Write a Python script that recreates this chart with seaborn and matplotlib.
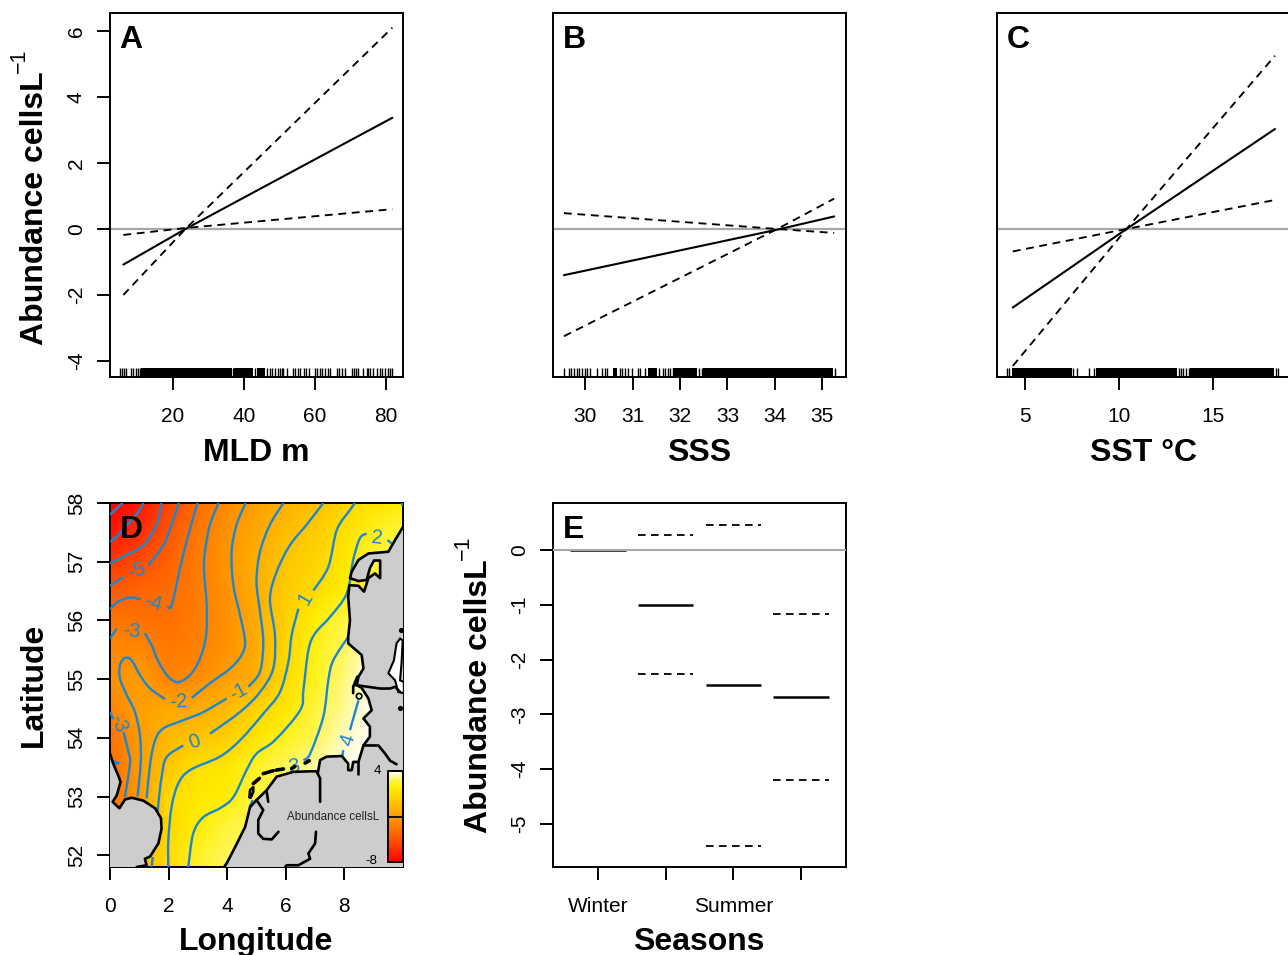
import numpy as np
import matplotlib
matplotlib.use("Agg")
import matplotlib.pyplot as plt
from matplotlib.colors import LinearSegmentedColormap
from matplotlib.path import Path
from matplotlib.patches import PathPatch
import seaborn as sns

W, H = 1288, 955

# ---------- panels A-C: partial effects ----------
mld_x = [6.0, 23.5, 81.8]
mld_fit = [-1.08, 0.0, 3.37]
mld_up = [-2.0, 0.0, 6.1]
mld_lo = [-0.18, 0.03, 0.6]

sss_x = [29.55, 34.05, 35.25]
sss_fit = [-1.4, -0.02, 0.38]
sss_up = [-3.25, 0.0, 0.92]
sss_lo = [0.48, 0.0, -0.12]

sst_x = [4.35, 10.4, 18.3]
sst_fit = [-2.38, 0.0, 3.03]
sst_up = [-4.15, 0.0, 5.25]
sst_lo = [-0.68, 0.0, 0.88]

rug_mld = [5.1, 5.5, 6.2, 6.8, 8.2, 8.8, 9.6, 10.2, 10.6, 37, 43.2, 46.4, 47.3, 47.8, 48.7, 49.7, 50.2,
           50.7, 51.1, 52.2, 53.9, 54.4, 55.3, 55.8, 56.9, 57.5, 58.4, 60, 60.6, 61.4, 61.9, 62.8, 63.8,
           64.2, 66.1, 66.9, 67.6, 68.5, 70.3, 70.9, 71.6, 72.2, 73.6, 74.6, 75, 75.6, 76.4, 77.4, 78.3,
           79, 79.8, 80.5, 81.2, 81.6]
rug_mld_dense = [(11, 36.5), (37.3, 42.6), (43.6, 45.9)]
rug_sss = [29.55, 29.66, 29.71, 29.77, 29.83, 29.87, 29.94, 30.0, 30.03, 30.10, 30.24, 30.36, 30.42, 30.46,
           30.73, 30.78, 30.84, 30.91, 30.99, 31.12, 31.15, 31.27, 31.56, 31.63, 31.68, 31.74, 31.79,
           31.85, 32.40, 32.46, 35.26]
rug_sss_dense = [(30.59, 30.68), (31.32, 31.51), (31.86, 32.35), (32.49, 35.22)]
rug_sst = [4.06, 4.16, 7.58, 7.76, 8.38, 8.68, 13.19, 13.31, 13.42, 13.54, 13.72, 18.35, 18.47]
rug_sst_dense = [(4.29, 7.49), (8.79, 13.1), (13.77, 18.26)]

# ---------- panel E: seasons ----------
season_labels = ["Winter", "", "Summer", ""]
season_pos = [1, 2, 3, 4]
season_fit = [0.0, -1.0, -2.47, -2.69]
season_up = [0.27, 0.45, -1.16]
season_lo = [-2.27, -5.4, -4.2]
season_ci_pos = [2, 3, 4]

# ---------- panel D: spatial surface ----------
grid_lon = [0, 1, 2, 3, 4, 5, 6, 7, 8, 9, 10]
grid_lat = [58, 57.5, 57, 56.5, 56, 55.5, 55, 54.5, 54, 53.5, 53, 52.5, 52, 51.8]
grid_val = [
    [-8.5, -7.2, -5.6, -4.0, -2.7, -1.7, -0.9, -0.2, 0.7, 1.4, 2.0],
    [-7.2, -6.4, -5.0, -3.5, -2.3, -1.3, -0.4, 0.4, 1.3, 2.2, 2.8],
    [-6.0, -5.3, -4.4, -3.3, -2.2, -1.0, 0.1, 0.7, 1.6, 2.6, 3.0],
    [-4.8, -4.3, -4.0, -3.3, -2.3, -1.1, 0.3, 1.05, 1.9, 2.5, 3.0],
    [-3.6, -3.7, -3.9, -3.2, -2.4, -1.2, 0.6, 2.0, 2.7, 3.5, 3.5],
    [-2.8, -2.75, -3.4, -3.05, -2.3, -1.2, 0.85, 2.2, 3.0, 3.8, 3.8],
    [-2.4, -1.8, -3.02, -2.6, -1.7, -1.0, 1.1, 2.3, 3.2, 4.2, 4.0],
    [-3.0, -1.7, -1.3, -1.2, -0.5, 0.7, 1.6, 2.6, 3.3, 4.3, 4.0],
    [-3.8, -2.0, -0.5, 0.0, 0.6, 1.5, 2.3, 2.9, 3.6, 4.3, 4.0],
    [-4.0, -1.95, 0.15, 1.3, 1.6, 2.4, 3.0, 3.4, 3.9, 4.0, 4.0],
    [-4.0, -2.0, 1.0, 1.7, 1.9, 2.7, 3.0, 3.0, 3.0, 3.0, 3.0],
    [-2.5, -1.5, 0.9, 1.9, 2.6, 3.0, 3.0, 3.0, 3.0, 3.0, 3.0],
    [-2.5, -0.6, 1.0, 2.4, 3.0, 3.0, 3.0, 3.0, 3.0, 3.0, 3.0],
    [-2.5, -0.6, 1.0, 2.4, 3.0, 3.0, 3.0, 3.0, 3.0, 3.0, 3.0],
]
legend_levels = [-8, -5, -2, 0, 2, 3, 4]
heat_colors = ["#ff0000", "#ff5500", "#ff9a00", "#ffc400", "#fff000", "#fff65a", "#ffffff"]
legend_low, legend_high = -8, 4
legend_mid = -2

iso_m8 = [[(0, 57.8), (0.43, 58)]]
iso_m7 = [[(1.14, 58), (0.97, 57.85), (0.63, 57.65), (0.23, 57.43), (0, 57.34)]]
iso_m6 = [[(1.76, 58), (1.59, 57.63), (1.14, 57.28), (0.46, 57.09), (0, 56.97)]]
iso_m5 = [[(2.35, 58), (2.10, 57.63), (1.82, 57.28), (1.31, 56.94)], [(0.46, 56.74), (0, 56.59)]]
iso_m4 = [[(2.99, 58), (2.67, 57.45), (2.39, 56.89), (2.22, 56.49), (2.08, 56.23), (1.93, 56.23)],
          [(1.05, 56.36), (0.68, 56.39), (0.28, 56.32), (0, 56.19)],
          [(0, 53.62), (0.28, 53.57), (0, 53.56)]]
iso_m3 = [[(3.70, 58), (3.41, 57.63), (3.24, 57.17), (3.21, 56.83), (3.30, 56.26), (3.28, 55.75), (3.07, 55.35),
           (2.73, 55.07), (2.33, 54.95), (1.99, 55.04), (1.65, 55.30), (1.42, 55.58), (1.19, 55.78)],
          [(0.23, 55.86), (0, 55.69)],
          [(0, 54.44), (0.11, 54.32)],
          [(0.46, 54.10), (0.63, 53.76), (0.68, 53.56), (0.51, 52.99)]]
iso_m2 = [[(4.63, 58), (4.32, 57.63), (4.15, 57.17), (4.21, 56.60), (4.44, 56.09), (4.61, 55.64), (4.49, 55.41),
           (4.10, 55.18), (3.41, 54.93), (2.79, 54.68)],
          [(1.88, 54.66), (1.37, 54.84), (1.02, 55.07), (0.74, 55.32), (0.51, 55.36), (0.34, 55.24), (0.34, 55.01),
           (0.57, 54.73), (0.85, 54.44), (1.02, 54.05), (1.05, 53.59), (0.94, 53.0)]]
iso_m1 = [[(5.92, 58), (5.46, 57.63), (5.12, 57.17), (5.0, 56.66), (5.12, 56.15), (5.23, 55.64), (5.12, 55.13),
           (4.72, 54.87)],
          [(3.98, 54.67), (3.19, 54.44), (2.50, 54.30), (1.82, 54.16), (1.54, 53.96), (1.37, 53.56), (1.25, 52.97)]]
iso_0 = [[(7.28, 58), (6.71, 57.63), (6.14, 57.28), (5.69, 56.83), (5.46, 56.37), (5.63, 55.75), (5.57, 55.18),
          (5.12, 54.78), (4.44, 54.44), (3.41, 54.07)],
         [(2.50, 53.87), (1.93, 53.67), (1.76, 53.33), (1.65, 52.88), (1.62, 52.65)],
         [(1.46, 51.97), (1.42, 51.8)]]
iso_1 = [[(8.36, 58), (8.19, 57.88), (7.74, 57.54), (7.45, 56.91), (6.94, 56.51)],
         [(6.43, 56.2), (6.20, 55.75), (6.09, 55.30), (5.80, 54.78), (5.23, 54.41), (4.44, 53.96), (3.75, 53.68),
          (2.73, 53.45), (2.33, 53.22), (2.10, 52.82), (1.99, 52.25), (1.99, 51.79)]]
iso_2 = [[(9.47, 57.37), (9.61, 57.31)],
         [(8.76, 57.48), (8.53, 57.40), (8.30, 57.03), (8.08, 56.46), (7.51, 56.06), (7.0, 55.78), (6.77, 55.49),
          (6.60, 54.81), (6.49, 54.47), (5.63, 53.96), (5.0, 53.73), (4.66, 53.45), (4.21, 52.99), (3.75, 52.80),
          (3.19, 52.65), (2.84, 52.37), (2.67, 51.79)],
         [(9.95, 58), (10, 57.94)]]
iso_3 = [[(8.13, 55.72), (7.62, 55.32), (7.45, 54.98), (7.28, 54.36), (6.83, 53.73), (6.60, 53.62)],
         [(3.89, 51.80), (4.04, 51.91)],
         [(4.76, 52.82), (4.87, 52.94)]]
iso_4 = [[(8.48, 54.64), (8.19, 54.13)], [(7.96, 53.79), (7.93, 53.69)]]
iso_lines = [iso_m8, iso_m7, iso_m6, iso_m5, iso_m4, iso_m3, iso_m2, iso_m1, iso_0, iso_1, iso_2, iso_3, iso_4]

iso_label_text = ["-5", "-4", "-3", "-3", "-2", "-1", "0", "1", "2", "3", "4"]
iso_label_lon = [0.91, 1.48, 0.74, 0.28, 2.33, 4.38, 2.90, 6.66, 9.10, 6.26, 8.13]
iso_label_lat = [56.84, 56.29, 55.81, 54.24, 54.61, 54.78, 53.93, 56.37, 57.40, 53.51, 53.96]
iso_label_rot = [18, -15, -5, -70, 4, 28, 20, 60, -5, 10, 72]

coast_main = [(10.01, 57.60), (9.73, 57.37), (9.50, 57.17), (8.82, 57.14), (8.48, 57.03), (8.25, 56.83), (8.19, 56.72),
              (8.48, 56.67), (8.76, 56.69), (8.87, 56.89), (9.01, 57.02), (9.22, 57.02), (9.22, 56.72), (9.04, 56.80),
              (8.82, 56.72), (8.67, 56.49), (8.48, 56.59), (8.17, 56.60), (8.13, 56.40), (8.19, 56.00), (8.13, 55.72),
              (8.13, 55.61), (8.59, 55.41), (8.65, 55.18), (8.48, 55.04), (8.42, 54.90), (8.59, 54.85), (8.82, 54.67),
              (8.93, 54.47), (8.65, 54.33), (8.87, 54.19), (8.87, 54.02), (8.65, 53.87), (8.48, 53.59), (8.30, 53.59),
              (8.25, 53.45), (8.13, 53.45), (8.13, 53.56), (7.91, 53.69), (7.39, 53.68), (7.17, 53.62), (7.09, 53.39),
              (7.05, 53.43), (6.83, 53.43), (6.26, 53.42), (5.69, 53.34), (5.35, 53.11), (5.0, 52.94), (4.78, 52.82),
              (4.61, 52.48), (4.27, 52.14), (3.98, 51.86), (3.89, 51.79)]
land_corners = [(10.05, 51.79), (10.05, 57.60)]
coast_britain = [(0, 53.73), (0.11, 53.56), (0.28, 53.36), (0.36, 53.25), (0.23, 53.02), (0.09, 52.91), (0.32, 52.80),
                 (0.51, 52.95), (0.74, 52.98), (1.14, 52.93), (1.54, 52.80), (1.74, 52.63), (1.76, 52.45), (1.65, 52.2),
                 (1.37, 51.98), (1.19, 51.94), (1.25, 51.83), (0.91, 51.8)]
britain_corner = [(0, 51.79)]
coast_inner = [
    [(8.44, 55.04), (8.30, 54.87), (8.30, 54.76)],
    [(8.36, 54.90), (9.22, 54.84), (9.56, 54.84), (9.73, 54.87), (9.90, 54.78)],
    [(8.48, 53.59), (8.48, 53.39)],
    [(7.09, 53.39), (7.17, 53.31), (7.17, 52.91)],
    [(5.35, 53.08), (5.40, 52.91)],
    [(5.0, 52.94), (5.23, 52.77), (5.06, 52.60), (5.06, 52.37), (5.23, 52.28), (5.52, 52.27), (5.75, 52.40)],
    [(7.03, 52.40), (7.0, 52.20), (6.77, 52.03), (6.83, 51.94), (6.43, 51.83), (6.03, 51.83), (5.97, 51.79)],
    [(8.65, 53.87), (9.16, 53.87), (9.39, 53.73), (9.56, 53.61), (9.78, 53.55)],
    [(4.76, 52.99), (4.78, 53.11), (4.89, 53.16), (4.89, 53.08), (4.80, 52.98), (4.76, 52.99)],
]
frisian_islands = [[(4.89, 53.22), (5.10, 53.31)], [(5.23, 53.39), (5.57, 53.44)], [(5.67, 53.45), (5.92, 53.47)],
                   [(6.20, 53.48), (6.31, 53.51)], [(6.66, 53.57), (6.80, 53.61)]]
baltic = [(9.90, 55.69), (9.78, 55.61), (9.69, 55.32), (9.50, 55.10), (9.73, 54.98), (9.84, 54.78), (10.03, 54.76),
          (10.03, 54.95), (9.90, 54.98), (9.95, 55.27), (9.99, 55.66)]
small_isle_lon = [9.90, 9.92]
small_isle_lat = [54.5, 55.84]
ring_isle_lon = [8.50]
ring_isle_lat = [54.71]
legend_lon = [9.49, 10.0]
legend_lat = [51.88, 53.43]


sns.set_theme(style="ticks")
plt.rcParams.update({
    "font.family": ["Liberation Sans", "DejaVu Sans"],
    "axes.unicode_minus": False,
    "axes.linewidth": 1.4,
    "xtick.major.width": 1.4,
    "ytick.major.width": 1.4,
    "xtick.major.size": 9.5,
    "ytick.major.size": 9.5,
    "xtick.major.pad": 12,
    "ytick.major.pad": 8,
    "axes.edgecolor": "black",
    "xtick.color": "black",
    "ytick.color": "black",
    "text.color": "black",
})

fig = plt.figure(figsize=(W / 100, H / 100), dpi=100)
TICK_FS, LAB_FS = 15, 23
GREY = "#a8a8a8"
BLUE = "#1b86d2"


def axes_px(l, t, r, b):
    return fig.add_axes([l / W, 1 - b / H, (r - l) / W, (b - t) / H])


def style(ax, letter, xticks, xlabels=None, yticks=None):
    ax.set_xticks(xticks)
    ax.set_xticklabels(xlabels if xlabels is not None else [str(v) for v in xticks], fontsize=TICK_FS)
    if yticks is None:
        ax.set_yticks([])
    else:
        ax.set_yticks(yticks)
        ax.set_yticklabels([str(v) for v in yticks], fontsize=TICK_FS, rotation=90, va="center")
    ax.set_xlabel("")
    ax.set_ylabel("")
    ax.text(0.033, 0.925, letter, transform=ax.transAxes, fontsize=LAB_FS, fontweight="bold",
            ha="left", va="center", color="black", zorder=20)


def effect_panel(ax, x, fit, up, lo, rug, dense, xlim, ylim):
    ax.axhline(0, color=GREY, lw=1.6, zorder=1)
    sns.lineplot(x=x, y=fit, ax=ax, color="black", lw=1.5, estimator=None, sort=False, zorder=3)
    for band in (up, lo):
        sns.lineplot(x=x, y=band, ax=ax, color="black", lw=1.35, estimator=None, sort=False, zorder=3)
        ax.lines[-1].set_linestyle((0, (4.2, 3.0)))
    sns.rugplot(x=rug, ax=ax, height=0.0255, color="black", lw=0.95, expand_margins=False)
    for a, b in dense:
        ax.axvspan(a, b, ymin=0, ymax=0.0255, color="black", lw=0)
    ax.set_xlim(*xlim)
    ax.set_ylim(*ylim)


ylim_effect = (-4.485, 6.545)

axA = axes_px(110, 13, 403, 377)
effect_panel(axA, mld_x, mld_fit, mld_up, mld_lo, rug_mld, rug_mld_dense, (2.25, 84.8), ylim_effect)
style(axA, "A", [20, 40, 60, 80], yticks=[-4, -2, 0, 2, 4, 6])

axB = axes_px(553, 13, 846, 377)
effect_panel(axB, sss_x, sss_fit, sss_up, sss_lo, rug_sss, rug_sss_dense, (29.32, 35.5), ylim_effect)
style(axB, "B", [30, 31, 32, 33, 34, 35])

axC = axes_px(997, 13, 1290, 377)
effect_panel(axC, sst_x, sst_fit, sst_up, sst_lo, rug_sst, rug_sst_dense, (3.51, 19.1), ylim_effect)
style(axC, "C", [5, 10, 15])

# ---------- panel D ----------
axD = axes_px(110, 503, 403, 867)
heat = LinearSegmentedColormap.from_list(
    "heat", [((v - legend_low) / (legend_high - legend_low), c) for v, c in zip(legend_levels, heat_colors)])
axD.pcolormesh(grid_lon, grid_lat, np.array(grid_val), cmap=heat, vmin=legend_low, vmax=legend_high,
               shading="gouraud", zorder=1)


def smooth_path(points):
    p = np.array(points, dtype=float)
    if len(p) < 3:
        return Path(p)
    q = np.vstack([p[0], p, p[-1]])
    verts, codes = [p[0]], [Path.MOVETO]
    for i in range(1, len(q) - 2):
        verts += [q[i] + (q[i + 1] - q[i - 1]) / 6, q[i + 1] - (q[i + 2] - q[i]) / 6, q[i + 1]]
        codes += [Path.CURVE4] * 3
    return Path(verts, codes)


for level in iso_lines:
    for seg in level:
        axD.add_patch(PathPatch(smooth_path(seg), fc="none", ec=BLUE, lw=1.7, zorder=3))
for t, lo_, la_, r_ in zip(iso_label_text, iso_label_lon, iso_label_lat, iso_label_rot):
    axD.text(lo_, la_, t, color=BLUE, fontsize=14.5, rotation=r_, ha="center", va="center",
             rotation_mode="anchor", zorder=4)

land = np.array(coast_main + land_corners)
axD.fill(land[:, 0], land[:, 1], color="#cdcdcd", lw=0, zorder=5)
gb = np.array(coast_britain + britain_corner)
axD.fill(gb[:, 0], gb[:, 1], color="#cdcdcd", lw=0, zorder=5)
bal = np.array(baltic)
axD.fill(bal[:, 0], bal[:, 1], fc="white", ec="black", lw=1.5, zorder=6)
for seg in [coast_main, coast_britain] + coast_inner:
    s = np.array(seg)
    axD.plot(s[:, 0], s[:, 1], color="black", lw=1.9, zorder=7, solid_joinstyle="round")
for seg in frisian_islands:
    s = np.array(seg)
    axD.plot(s[:, 0], s[:, 1], color="black", lw=2.6, zorder=7, solid_capstyle="round")
axD.scatter(small_isle_lon, small_isle_lat, s=14, color="black", zorder=7, lw=0)
axD.scatter(ring_isle_lon, ring_isle_lat, s=16, facecolor="none", edgecolor="black", zorder=7, lw=1.2)

legend_vals = np.linspace(legend_low, legend_high, 100)[:, None]
axD.pcolormesh(legend_lon, np.linspace(legend_lat[0], legend_lat[1], 101), legend_vals, cmap=heat,
               vmin=legend_low, vmax=legend_high, zorder=8)
axD.plot([legend_lon[0], legend_lon[1], legend_lon[1], legend_lon[0], legend_lon[0]],
         [legend_lat[0], legend_lat[0], legend_lat[1], legend_lat[1], legend_lat[0]],
         color="black", lw=1.4, zorder=9, clip_on=False)
mid_lat = legend_lat[0] + (legend_mid - legend_low) / (legend_high - legend_low) * (legend_lat[1] - legend_lat[0])
axD.plot(legend_lon, [mid_lat, mid_lat], color="black", lw=1.3, zorder=9)
axD.text(7.6, 52.65, "Abundance cellsL", fontsize=8.4, color="#222222", ha="center", va="center", zorder=9)
axD.text(9.12, 53.43, "4", fontsize=9.6, color="black", ha="center", va="center", zorder=9)
axD.text(8.92, 51.9, "-8", fontsize=9.6, color="black", ha="center", va="center", zorder=9)
axD.set_xlim(0, 10)
axD.set_ylim(51.8, 58)
style(axD, "D", [0, 2, 4, 6, 8], yticks=[52, 53, 54, 55, 56, 57, 58])

# ---------- panel E ----------
axE = axes_px(553, 503, 846, 867)
half = 0.41
axE.hlines(season_fit, np.array(season_pos) - half, np.array(season_pos) + half, color="black", lw=1.8, zorder=2)
axE.axhline(0, color=GREY, lw=1.5, zorder=3)
for arr in (season_up, season_lo):
    axE.hlines(arr, np.array(season_ci_pos) - half, np.array(season_ci_pos) + half, color="black", lw=1.3,
               linestyles=[(0, (4.2, 3.0))], zorder=2)
axE.set_xlim(0.335, 4.665)
axE.set_ylim(-5.785, 0.858)
style(axE, "E", season_pos, xlabels=season_labels, yticks=[-5, -4, -3, -2, -1, 0])


# ---------- axis labels placed as in the figure ----------
def lab(x, y, s, rot=0, size=LAB_FS, weight="bold"):
    fig.text(x / W, 1 - y / H, s, fontsize=size, fontweight=weight, ha="center", va="center", rotation=rot)


lab(35, 208, "Abundance cellsL", 90)
lab(19, 61, "\u22121", 90, size=15.5, weight="normal")
lab(256, 453, "MLD m")
lab(699, 453, "SSS")
lab(1143, 453, "SST °C")
lab(34, 685, "Latitude", 90)
lab(256, 942, "Longitude")
lab(479, 696, "Abundance cellsL", 90)
lab(463, 548, "\u22121", 90, size=15.5, weight="normal")
lab(699, 942, "Seasons")

fig.savefig("out.png", dpi=100)
